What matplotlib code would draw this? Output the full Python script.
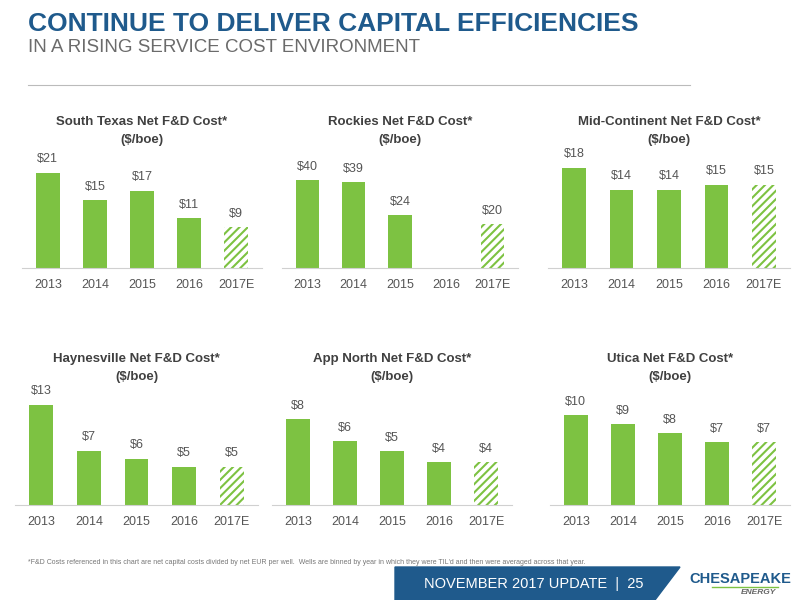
import matplotlib
matplotlib.use('Agg')
import matplotlib.pyplot as plt
from matplotlib.patches import Polygon

years = ["2013", "2014", "2015", "2016", "2017E"]
titles = ["South Texas Net F&D Cost*\n($/boe)", "Rockies Net F&D Cost*\n($/boe)",
          "Mid-Continent Net F&D Cost*\n($/boe)", "Haynesville Net F&D Cost*\n($/boe)",
          "App North Net F&D Cost*\n($/boe)", "Utica Net F&D Cost*\n($/boe)"]
south_texas = [21, 15, 17, 11, 9]
rockies = [40, 39, 24, None, 20]
mid_continent = [18, 14, 14, 15, 15]
haynesville = [13, 7, 6, 5, 5]
app_north = [8, 6, 5, 4, 4]
utica = [10, 9, 8, 7, 7]
series = [south_texas, rockies, mid_continent, haynesville, app_north, utica]

GREEN = "#7DC242"
BLUE = "#1F5A8C"
GRAY = "#555555"
plt.rcParams['font.family'] = ['Liberation Sans', 'DejaVu Sans']
plt.rcParams['hatch.color'] = GREEN
plt.rcParams['hatch.linewidth'] = 1.5

fig = plt.figure(figsize=(8, 6), dpi=100)
W, H = 800.0, 600.0

# panel boxes in px: left, right, baseline, bar height in px for the max value
boxes = [(22, 262, 268, 95), (282, 518, 268, 88), (548, 790, 268, 100),
         (15, 258, 505, 100), (272, 512, 505, 86), (550, 790, 505, 90)]

for (x0, x1, base, hpx), vals, title in zip(boxes, series, titles):
    top_h = 120
    ax = fig.add_axes([x0 / W, 1 - base / H, (x1 - x0) / W, top_h / H])
    vmax = max(v for v in vals if v is not None)
    ax.set_ylim(0, vmax * top_h / hpx)
    ax.set_xlim(-0.55, 4.55)
    for i, v in enumerate(vals):
        if v is None:
            continue
        if i == 4:
            ax.bar(i, v, width=0.5, color="white", edgecolor=GREEN, hatch="////", linewidth=0)
        else:
            ax.bar(i, v, width=0.5, color=GREEN)
        ax.text(i, v + vmax * 0.08, f"${v}", ha="center", va="bottom", fontsize=9, color=GRAY)
    ax.set_xticks(range(5))
    ax.set_xticklabels(years, fontsize=9, color=GRAY)
    ax.tick_params(length=0, pad=8)
    ax.set_yticks([])
    for s in ["top", "right", "left"]:
        ax.spines[s].set_visible(False)
    ax.spines["bottom"].set_color("#D0D0D0")
    fig.text((x0 + x1) / 2 / W, 1 - (base - 152) / H, title, ha="center", va="top",
             fontsize=9.5, fontweight="bold", color="#404040", linespacing=1.7)

fig.text(28 / W, 1 - 24 / H, "CONTINUE TO DELIVER CAPITAL EFFICIENCIES", fontsize=19,
         fontweight="bold", color=BLUE, va="center")
fig.text(28 / W, 1 - 48 / H, "IN A RISING SERVICE COST ENVIRONMENT", fontsize=13.5,
         color="#6B6B6B", va="center")
fig.add_artist(plt.Line2D([28 / W, 690 / W], [1 - 85 / H, 1 - 85 / H], color="#BBBBBB", lw=0.8))

fig.text(28 / W, 1 - 563 / H, "*F&D Costs referenced in this chart are net capital costs divided by net EUR per well.  "
         "Wells are binned by year in which they were TIL'd and then were averaged across that year.",
         fontsize=5, color="#777777", va="center")

banner = Polygon([[395 / W, 0], [655 / W, 0], [680 / W, 1 - 567 / H], [395 / W, 1 - 567 / H]],
                 closed=True, color=BLUE, transform=fig.transFigure)
fig.add_artist(banner)
fig.text(643 / W, 1 - 584 / H, "NOVEMBER 2017 UPDATE  |  25", fontsize=10.5, color="white",
         ha="right", va="center")
fig.text(740 / W, 1 - 579 / H, "CHESAPEAKE", fontsize=10.5, fontweight="bold", color=BLUE,
         ha="center", va="center")
fig.add_artist(plt.Line2D([712 / W, 778 / W], [1 - 587 / H, 1 - 587 / H], color=GREEN, lw=1))
fig.text(776 / W, 1 - 593 / H, "ENERGY", fontsize=6, fontweight="bold", style="italic",
         color="#666666", ha="right", va="center")

fig.savefig("out.png", dpi=100)
